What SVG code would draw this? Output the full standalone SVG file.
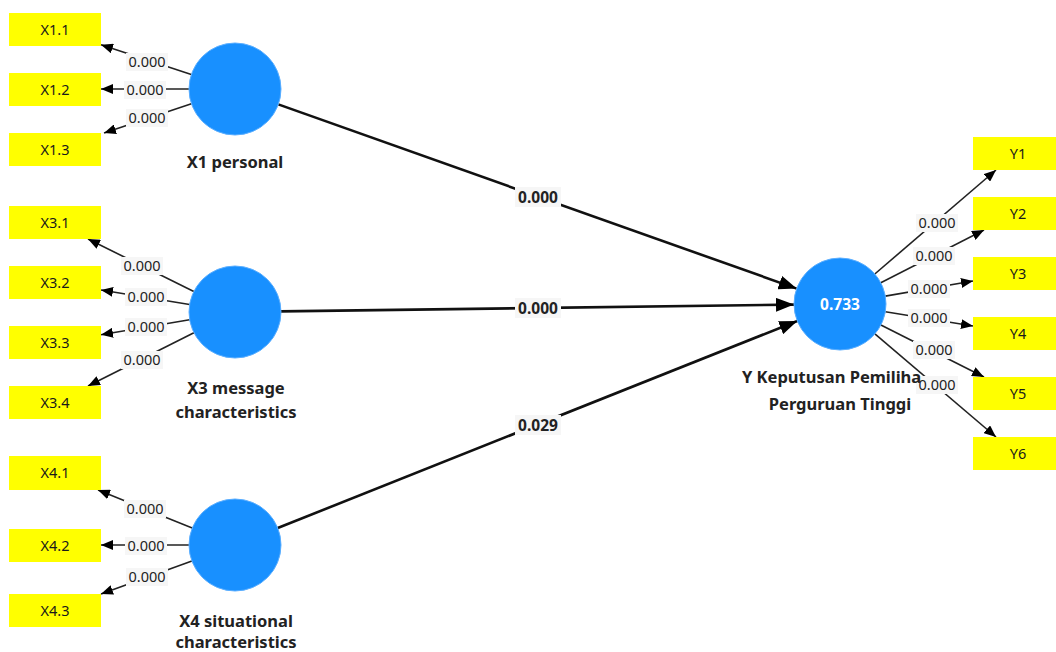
<svg xmlns="http://www.w3.org/2000/svg" width="1056" height="652" viewBox="0 0 1056 652">
<style>
.bg{fill:#ffffff}
.ind rect{fill:#ffff00}
.ind text{font-family:"Noto Sans","Liberation Sans",sans-serif;font-size:14.5px;fill:#1a1a1a;text-anchor:middle}
.lv circle{fill:#1890ff;stroke:#5aaeff;stroke-width:1}
.lv text{font-family:"Noto Sans","Liberation Sans",sans-serif;font-size:16.5px;font-weight:bold;fill:#222;text-anchor:middle}
.lv text.r2{fill:#ffffff;font-size:15.5px}
.out{stroke:#222;stroke-width:1.6;fill:none;marker-end:url(#ah)}
.inn{stroke:#111;stroke-width:2.6;fill:none;marker-end:url(#ahb)}
.lb rect{fill:#f6f6f6}
.lb text{font-family:"Noto Sans","Liberation Sans",sans-serif;font-size:14.5px;fill:#222;text-anchor:middle}
.lbb text{font-family:"Noto Sans","Liberation Sans",sans-serif;font-size:15.5px;font-weight:bold;fill:#222;text-anchor:middle}
.lbb rect{fill:#f6f6f6}
</style>
<defs>
<marker id="ah" viewBox="0 0 12 10" refX="12" refY="5" markerWidth="12" markerHeight="10" markerUnits="userSpaceOnUse" orient="auto"><path d="M0,0 L12,5 L0,10 z" fill="#000"/></marker>
<marker id="ahb" viewBox="0 0 18 14" refX="18" refY="7" markerWidth="18" markerHeight="14" markerUnits="userSpaceOnUse" orient="auto"><path d="M0,0 L18,7 L0,14 z" fill="#000"/></marker>
</defs>
<rect class="bg" x="0" y="0" width="1056" height="652"/>
<g id="connectors">
<line class="out" x1="191.3" y1="74.6" x2="101" y2="44.7"/>
<line class="out" x1="189" y1="89" x2="101" y2="89"/>
<line class="out" x1="191.4" y1="103.7" x2="104" y2="133"/>
<line class="out" x1="193.8" y1="291.5" x2="88" y2="239"/>
<line class="out" x1="189.6" y1="304.5" x2="101" y2="290"/>
<line class="out" x1="189.6" y1="319.7" x2="101" y2="334.7"/>
<line class="out" x1="193.9" y1="332.7" x2="88" y2="386"/>
<line class="out" x1="192.2" y1="528.1" x2="98" y2="490"/>
<line class="out" x1="189" y1="545" x2="101" y2="545"/>
<line class="out" x1="191.9" y1="561" x2="101" y2="594"/>
<line class="out" x1="874.8" y1="274" x2="996" y2="170"/>
<line class="out" x1="880.8" y1="282.8" x2="984" y2="230"/>
<line class="out" x1="885.3" y1="296.1" x2="973" y2="281"/>
<line class="out" x1="885.4" y1="311.7" x2="973" y2="326"/>
<line class="out" x1="880.9" y1="325" x2="984" y2="377"/>
<line class="out" x1="874.9" y1="333.9" x2="996" y2="437"/>
<line class="inn" x1="278.3" y1="104.4" x2="796.7" y2="288.6"/>
<line class="inn" x1="281" y1="311.4" x2="794" y2="304.6"/>
<line class="inn" x1="277.7" y1="528" x2="797.3" y2="321"/>
<g class="lb">
<rect x="126" y="53" width="42" height="18"/><text x="147" y="67">0.000</text>
<rect x="124" y="81" width="42" height="18"/><text x="145" y="95">0.000</text>
<rect x="126" y="109" width="42" height="18"/><text x="147" y="123">0.000</text>
<rect x="121" y="257" width="42" height="18"/><text x="142" y="271">0.000</text>
<rect x="125" y="288" width="42" height="18"/><text x="146" y="302">0.000</text>
<rect x="125" y="318" width="42" height="18"/><text x="146" y="332">0.000</text>
<rect x="121" y="351" width="42" height="18"/><text x="142" y="365">0.000</text>
<rect x="124" y="500" width="42" height="18"/><text x="145" y="514">0.000</text>
<rect x="125" y="537" width="42" height="18"/><text x="146" y="551">0.000</text>
<rect x="126" y="568" width="42" height="18"/><text x="147" y="582">0.000</text>
<rect x="916" y="214" width="42" height="18"/><text x="937" y="228">0.000</text>
<rect x="913" y="247" width="42" height="18"/><text x="934" y="261">0.000</text>
<rect x="908" y="280" width="42" height="18"/><text x="929" y="294">0.000</text>
<rect x="908" y="309" width="42" height="18"/><text x="929" y="323">0.000</text>
<rect x="913" y="341" width="42" height="18"/><text x="934" y="355">0.000</text>
<rect x="916" y="376" width="42" height="18"/><text x="937" y="390">0.000</text>
</g>
<g class="lbb">
<rect x="515" y="187" width="46" height="20"/><text x="538" y="202.5">0.000</text>
<rect x="515" y="298" width="46" height="20"/><text x="538" y="313.5">0.000</text>
<rect x="515" y="415" width="46" height="20"/><text x="538" y="430.5">0.029</text>
</g>
</g>
<g id="X1" class="lv"><circle cx="235" cy="89" r="46"/><text x="235" y="168">X1 personal</text></g>
<g id="X3" class="lv"><circle cx="235" cy="312" r="46"/><text x="236" y="394">X3 message</text><text x="236" y="418">characteristics</text></g>
<g id="X4" class="lv"><circle cx="235" cy="545" r="46"/><text x="236" y="627">X4 situational</text><text x="236" y="648">characteristics</text></g>
<g id="Y" class="lv"><circle cx="840" cy="304" r="46"/><text class="r2" x="840" y="309.5">0.733</text><text x="742" y="383" style="text-anchor:start">Y Keputusan Pemiliha</text><text x="840" y="410">Perguruan Tinggi</text></g>
<g id="X1.1" class="ind"><rect x="9" y="13" width="92" height="33"/><text x="55" y="34.5">X1.1</text></g>
<g id="X1.2" class="ind"><rect x="9" y="73" width="92" height="33"/><text x="55" y="94.5">X1.2</text></g>
<g id="X1.3" class="ind"><rect x="9" y="133" width="92" height="33"/><text x="55" y="154.5">X1.3</text></g>
<g id="X3.1" class="ind"><rect x="9" y="206" width="92" height="33"/><text x="55" y="227.5">X3.1</text></g>
<g id="X3.2" class="ind"><rect x="9" y="266" width="92" height="33"/><text x="55" y="287.5">X3.2</text></g>
<g id="X3.3" class="ind"><rect x="9" y="326" width="92" height="33"/><text x="55" y="347.5">X3.3</text></g>
<g id="X3.4" class="ind"><rect x="9" y="386" width="92" height="33"/><text x="55" y="407.5">X3.4</text></g>
<g id="X4.1" class="ind"><rect x="9" y="456" width="92" height="34"/><text x="55" y="478">X4.1</text></g>
<g id="X4.2" class="ind"><rect x="9" y="529" width="92" height="33"/><text x="55" y="550.5">X4.2</text></g>
<g id="X4.3" class="ind"><rect x="9" y="594" width="92" height="33"/><text x="55" y="615.5">X4.3</text></g>
<g id="Y1" class="ind"><rect x="973" y="137" width="83" height="33"/><text x="1018" y="158.5">Y1</text></g>
<g id="Y2" class="ind"><rect x="973" y="197" width="83" height="33"/><text x="1018" y="218.5">Y2</text></g>
<g id="Y3" class="ind"><rect x="973" y="257" width="83" height="33"/><text x="1018" y="278.5">Y3</text></g>
<g id="Y4" class="ind"><rect x="973" y="317" width="83" height="33"/><text x="1018" y="338.5">Y4</text></g>
<g id="Y5" class="ind"><rect x="973" y="377" width="83" height="33"/><text x="1018" y="398.5">Y5</text></g>
<g id="Y6" class="ind"><rect x="973" y="437" width="83" height="33"/><text x="1018" y="458.5">Y6</text></g>
</svg>
